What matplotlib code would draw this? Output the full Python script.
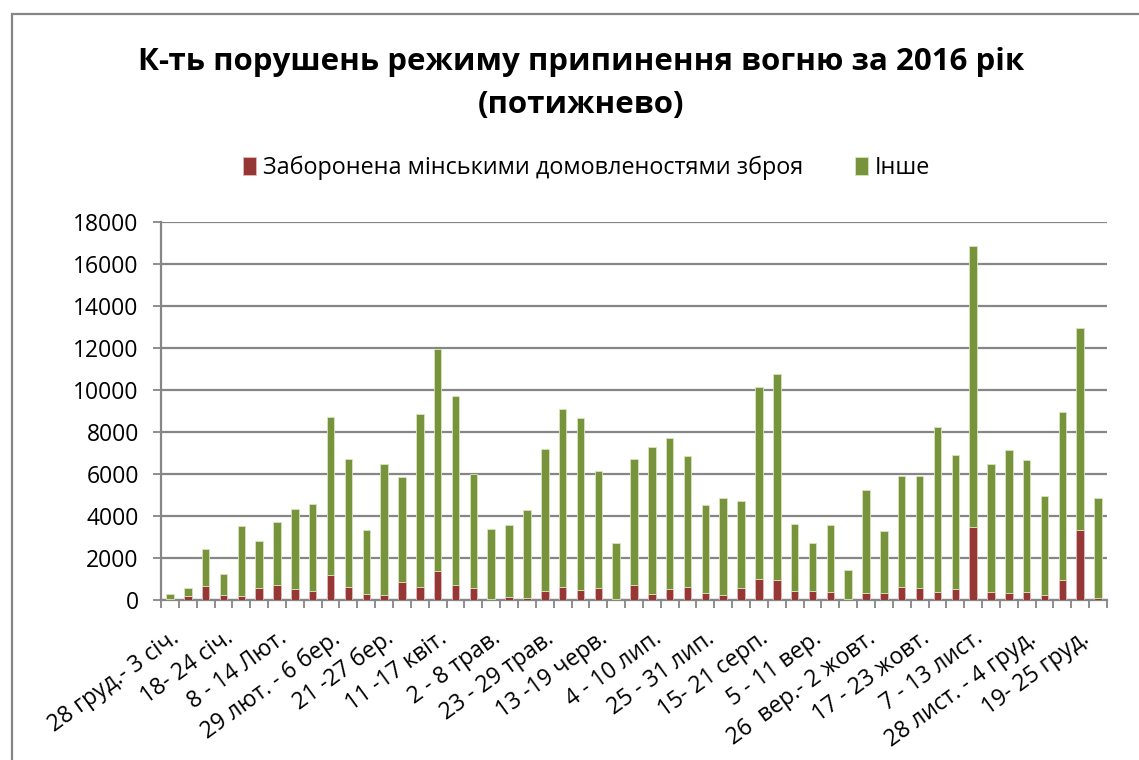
import numpy as np
import matplotlib.pyplot as plt
from matplotlib.patches import Rectangle

plt.rcParams['font.family'] = ['Open Sans', 'DejaVu Sans']

# weekly values, 53 weeks (28 груд. 2015 - 1 січ. 2017)
zaboronena = [40, 200, 680, 250, 200, 590, 700, 540, 440, 1210,
              640, 290, 240, 840, 620, 1400, 700, 590, 50, 160,
              110, 440, 620, 490, 570, 60, 710, 300, 540, 640,
              350, 240, 570, 1000, 970, 410, 440, 400, 30, 320,
              320, 640, 590, 370, 540, 3460, 380, 330, 380, 220,
              970, 3350, 80]
inshe = [230, 390, 1730, 970, 3320, 2240, 3010, 3790, 4120, 7500,
         6070, 3060, 6220, 5030, 8240, 10550, 9030, 5430, 3320, 3430,
         4160, 6770, 8460, 8190, 5560, 2670, 5990, 6980, 7160, 6200,
         4170, 4620, 4160, 9130, 9790, 3190, 2260, 3160, 1410, 4900,
         2970, 5260, 5330, 7850, 6350, 13410, 6100, 6800, 6300, 4720,
         7980, 9580, 4780]

# every third week is labelled
tick_labels = ['28 груд.- 3 січ.', '18- 24 січ.', '8 - 14 Лют.', '29 лют. - 6 бер.',
               '21 -27 бер.', '11 -17 квіт.', '2 - 8 трав.', '23 - 29 трав.',
               '13 -19 черв.', '4 - 10 лип.', '25 - 31 лип.', '15- 21 серп.',
               '5 - 11 вер.', '26  вер.- 2 жовт.', '17 - 23 жовт.', '7 - 13 лист.',
               '28 лист. - 4 груд.', '19- 25 груд.']

red = '#953735'
green = '#77933C'
grid_col = '#868686'

fig = plt.figure(figsize=(11.39, 7.6), dpi=100)
ax = fig.add_axes([161/1139, 1-600/760, (1107-161)/1139, (600-222)/760])

x = np.arange(len(zaboronena))
ax.bar(x, zaboronena, width=0.42, color=red, edgecolor='#e6b9b8', linewidth=0.6,
       label='Заборонена мінськими домовленостями зброя', zorder=3)
ax.bar(x, inshe, width=0.42, bottom=zaboronena, color=green, edgecolor='#d7e4bd',
       linewidth=0.6, label='Інше', zorder=3)

ax.set_xlim(-0.5, len(x) - 0.5)
ax.set_ylim(0, 18000)
ax.set_yticks(range(0, 18001, 2000))
ax.yaxis.grid(True, color=grid_col, linewidth=1.6, zorder=0)
ax.tick_params(axis='y', length=6, width=1.3, color=grid_col, labelsize=16.5, pad=10)

ax.set_xticks(x[::3])
ax.set_xticklabels(tick_labels, rotation=36, ha='right', va='top',
                   rotation_mode='anchor', fontsize=16.5)
ax.tick_params(axis='x', which='major', length=0, pad=19)
ax.set_xticks(np.arange(-0.5, len(x), 1), minor=True)
ax.tick_params(axis='x', which='minor', length=6, width=1.3, color=grid_col)

for s in ['top', 'right']:
    ax.spines[s].set_visible(False)
for s in ['left', 'bottom']:
    ax.spines[s].set_color(grid_col)
    ax.spines[s].set_linewidth(1.6)

fig.text(0.51, 1-62/760, 'К-ть порушень режиму припинення вогню за 2016 рік',
         ha='center', va='center', fontsize=22.5, fontweight='bold')
fig.text(0.51, 1-105/760, '(потижнево)', ha='center', va='center',
         fontsize=22.5, fontweight='bold')

fig.legend(loc='center', bbox_to_anchor=(0.515, 1-168/760), ncol=2, frameon=False,
           fontsize=16.8, handlelength=0.55, handleheight=0.8, handletextpad=0.3,
           columnspacing=2.2)

fig.patches.append(Rectangle((12/1139, -0.1), 1.2, 0.1 + 1-14/760, fill=False,
                             edgecolor=grid_col, linewidth=1.6,
                             transform=fig.transFigure, clip_on=False))

fig.savefig('out.png', dpi=100)
